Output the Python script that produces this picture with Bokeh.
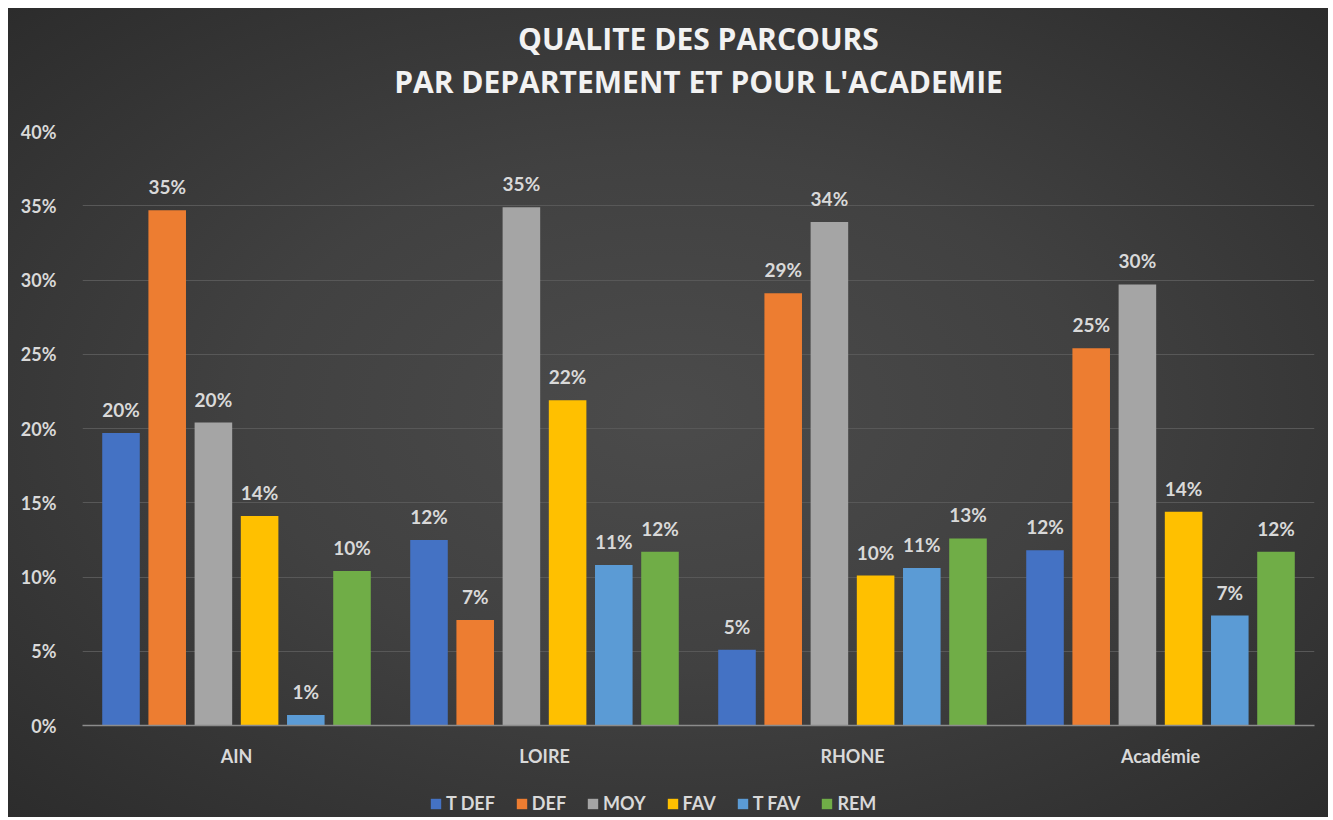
from bokeh.plotting import figure
from bokeh.layouts import column
from bokeh.models import (ColumnDataSource, FactorRange, Range1d, LabelSet, Legend, LegendItem,
                          NumeralTickFormatter, Title, FixedTicker)
from bokeh.core.properties import value
from bokeh.transform import dodge
from bokeh.embed import file_html
from bokeh.resources import INLINE

categories = ["AIN", "LOIRE", "RHONE", "Académie"]
series = ["T DEF", "DEF", "MOY", "FAV", "T FAV", "REM"]
t_def = [0.197, 0.125, 0.051, 0.118]
defv = [0.347, 0.071, 0.291, 0.254]
moy = [0.204, 0.349, 0.339, 0.297]
fav = [0.141, 0.219, 0.101, 0.144]
t_fav = [0.007, 0.108, 0.106, 0.074]
rem = [0.104, 0.117, 0.126, 0.117]
values = [t_def, defv, moy, fav, t_fav, rem]
colors = ["#4472C4", "#ED7D31", "#A5A5A5", "#FFC000", "#5B9BD5", "#70AD47"]
y_ticks = [0, 0.05, 0.10, 0.15, 0.20, 0.25, 0.30, 0.35, 0.40]
title_lines = ["QUALITE DES PARCOURS", "PAR DEPARTEMENT ET POUR L'ACADEMIE"]

FONT = "Lato"
TFONT = "Open Sans"
TXT = "#d9d9d9"
W = 1320

p = figure(x_range=FactorRange(*categories, range_padding=0), y_range=Range1d(0, 0.40),
           width=W, height=777, output_backend="svg", toolbar_location=None,
           min_border_left=74, min_border_right=14, min_border_top=123, min_border_bottom=60)
p.background_fill_alpha = 0
p.border_fill_alpha = 0
p.outline_line_color = None

# spacer between the plot and the two title lines
p.add_layout(Title(text=" ", text_font_size="10px", standoff=17), "above")
p.add_layout(Title(text=title_lines[1], align="center", text_font=TFONT,
                   text_font_size="30px", text_font_style="bold", text_color="#f2f2f2",
                   text_line_height=1.0, standoff=0), "above")
p.add_layout(Title(text=title_lines[0], align="center", text_font=TFONT,
                   text_font_size="30px", text_font_style="bold", text_color="#f2f2f2",
                   text_line_height=1.0, standoff=0), "above")

pitch = 0.15
width = 0.122
for i, (name, vals, col) in enumerate(zip(series, values, colors)):
    off = (i - 2.5) * pitch
    src = ColumnDataSource(dict(x=categories, top=vals,
                                lab=[f"{round(v * 100):d}%" for v in vals]))
    p.vbar(x=dodge("x", off, range=p.x_range), top="top", width=width, source=src,
           fill_color=col, line_color=None)
    labels = LabelSet(x=dodge("x", off, range=p.x_range), y="top", text="lab", source=src,
                      text_align="center", text_baseline="bottom", y_offset=12,
                      text_font=value(FONT), text_font_size=value("19px"),
                      text_font_style="bold", text_color=TXT)
    p.add_layout(labels)

p.yaxis.ticker = FixedTicker(ticks=y_ticks)
p.yaxis.formatter = NumeralTickFormatter(format="0%")
p.yaxis.axis_line_color = None
p.yaxis.major_tick_line_color = None
p.yaxis.minor_tick_line_color = None
p.yaxis.major_label_text_color = TXT
p.yaxis.major_label_text_font = FONT
p.yaxis.major_label_text_font_size = "18px"
p.yaxis.major_label_text_font_style = "bold"
p.yaxis.major_label_standoff = 20

p.xaxis.axis_line_color = "#8c8c8c"
p.xaxis.axis_line_width = 1.5
p.xaxis.major_tick_line_color = None
p.xaxis.minor_tick_line_color = None
p.xaxis.major_label_text_color = TXT
p.xaxis.major_label_text_font = FONT
p.xaxis.major_label_text_font_size = "18px"
p.xaxis.major_label_text_font_style = "bold"
p.xaxis.major_label_standoff = 13

p.xgrid.grid_line_color = None
p.ygrid.grid_line_color = "#585858"
p.ygrid.grid_line_width = 1

# legend strip (zero-size proxy glyphs carry the series colours)
pl = figure(width=W, height=32, output_backend="svg", toolbar_location=None,
            x_range=Range1d(0, 1), y_range=Range1d(0, 1),
            min_border_left=0, min_border_right=0, min_border_top=0, min_border_bottom=0)
pl.background_fill_alpha = 0
pl.border_fill_alpha = 0
pl.outline_line_color = None
pl.axis.visible = False
pl.grid.visible = False
items = []
for name, col in zip(series, colors):
    r = pl.vbar(x=[0.5], bottom=[0], top=[0], width=0, fill_color=col, line_color=None)
    items.append(LegendItem(label=name, renderers=[r]))
legend = Legend(items=items, orientation="horizontal", location=(347, 3),
                label_text_font=FONT, label_text_font_size="18px", label_text_font_style="bold",
                label_text_color=TXT, glyph_width=13, glyph_height=13, spacing=20,
                label_standoff=4, background_fill_alpha=0, border_line_color=None,
                padding=2, margin=0)
pl.add_layout(legend, "center")

layout = column(p, pl, spacing=0)
layout.margin = (8, 0, 0, 8)
layout.styles = {"background": "radial-gradient(ellipse at 50% 50%, #4b4b4b 0%, #414141 45%, #2c2c2c 100%)"}

open("out.html", "w").write(file_html(layout, INLINE))
